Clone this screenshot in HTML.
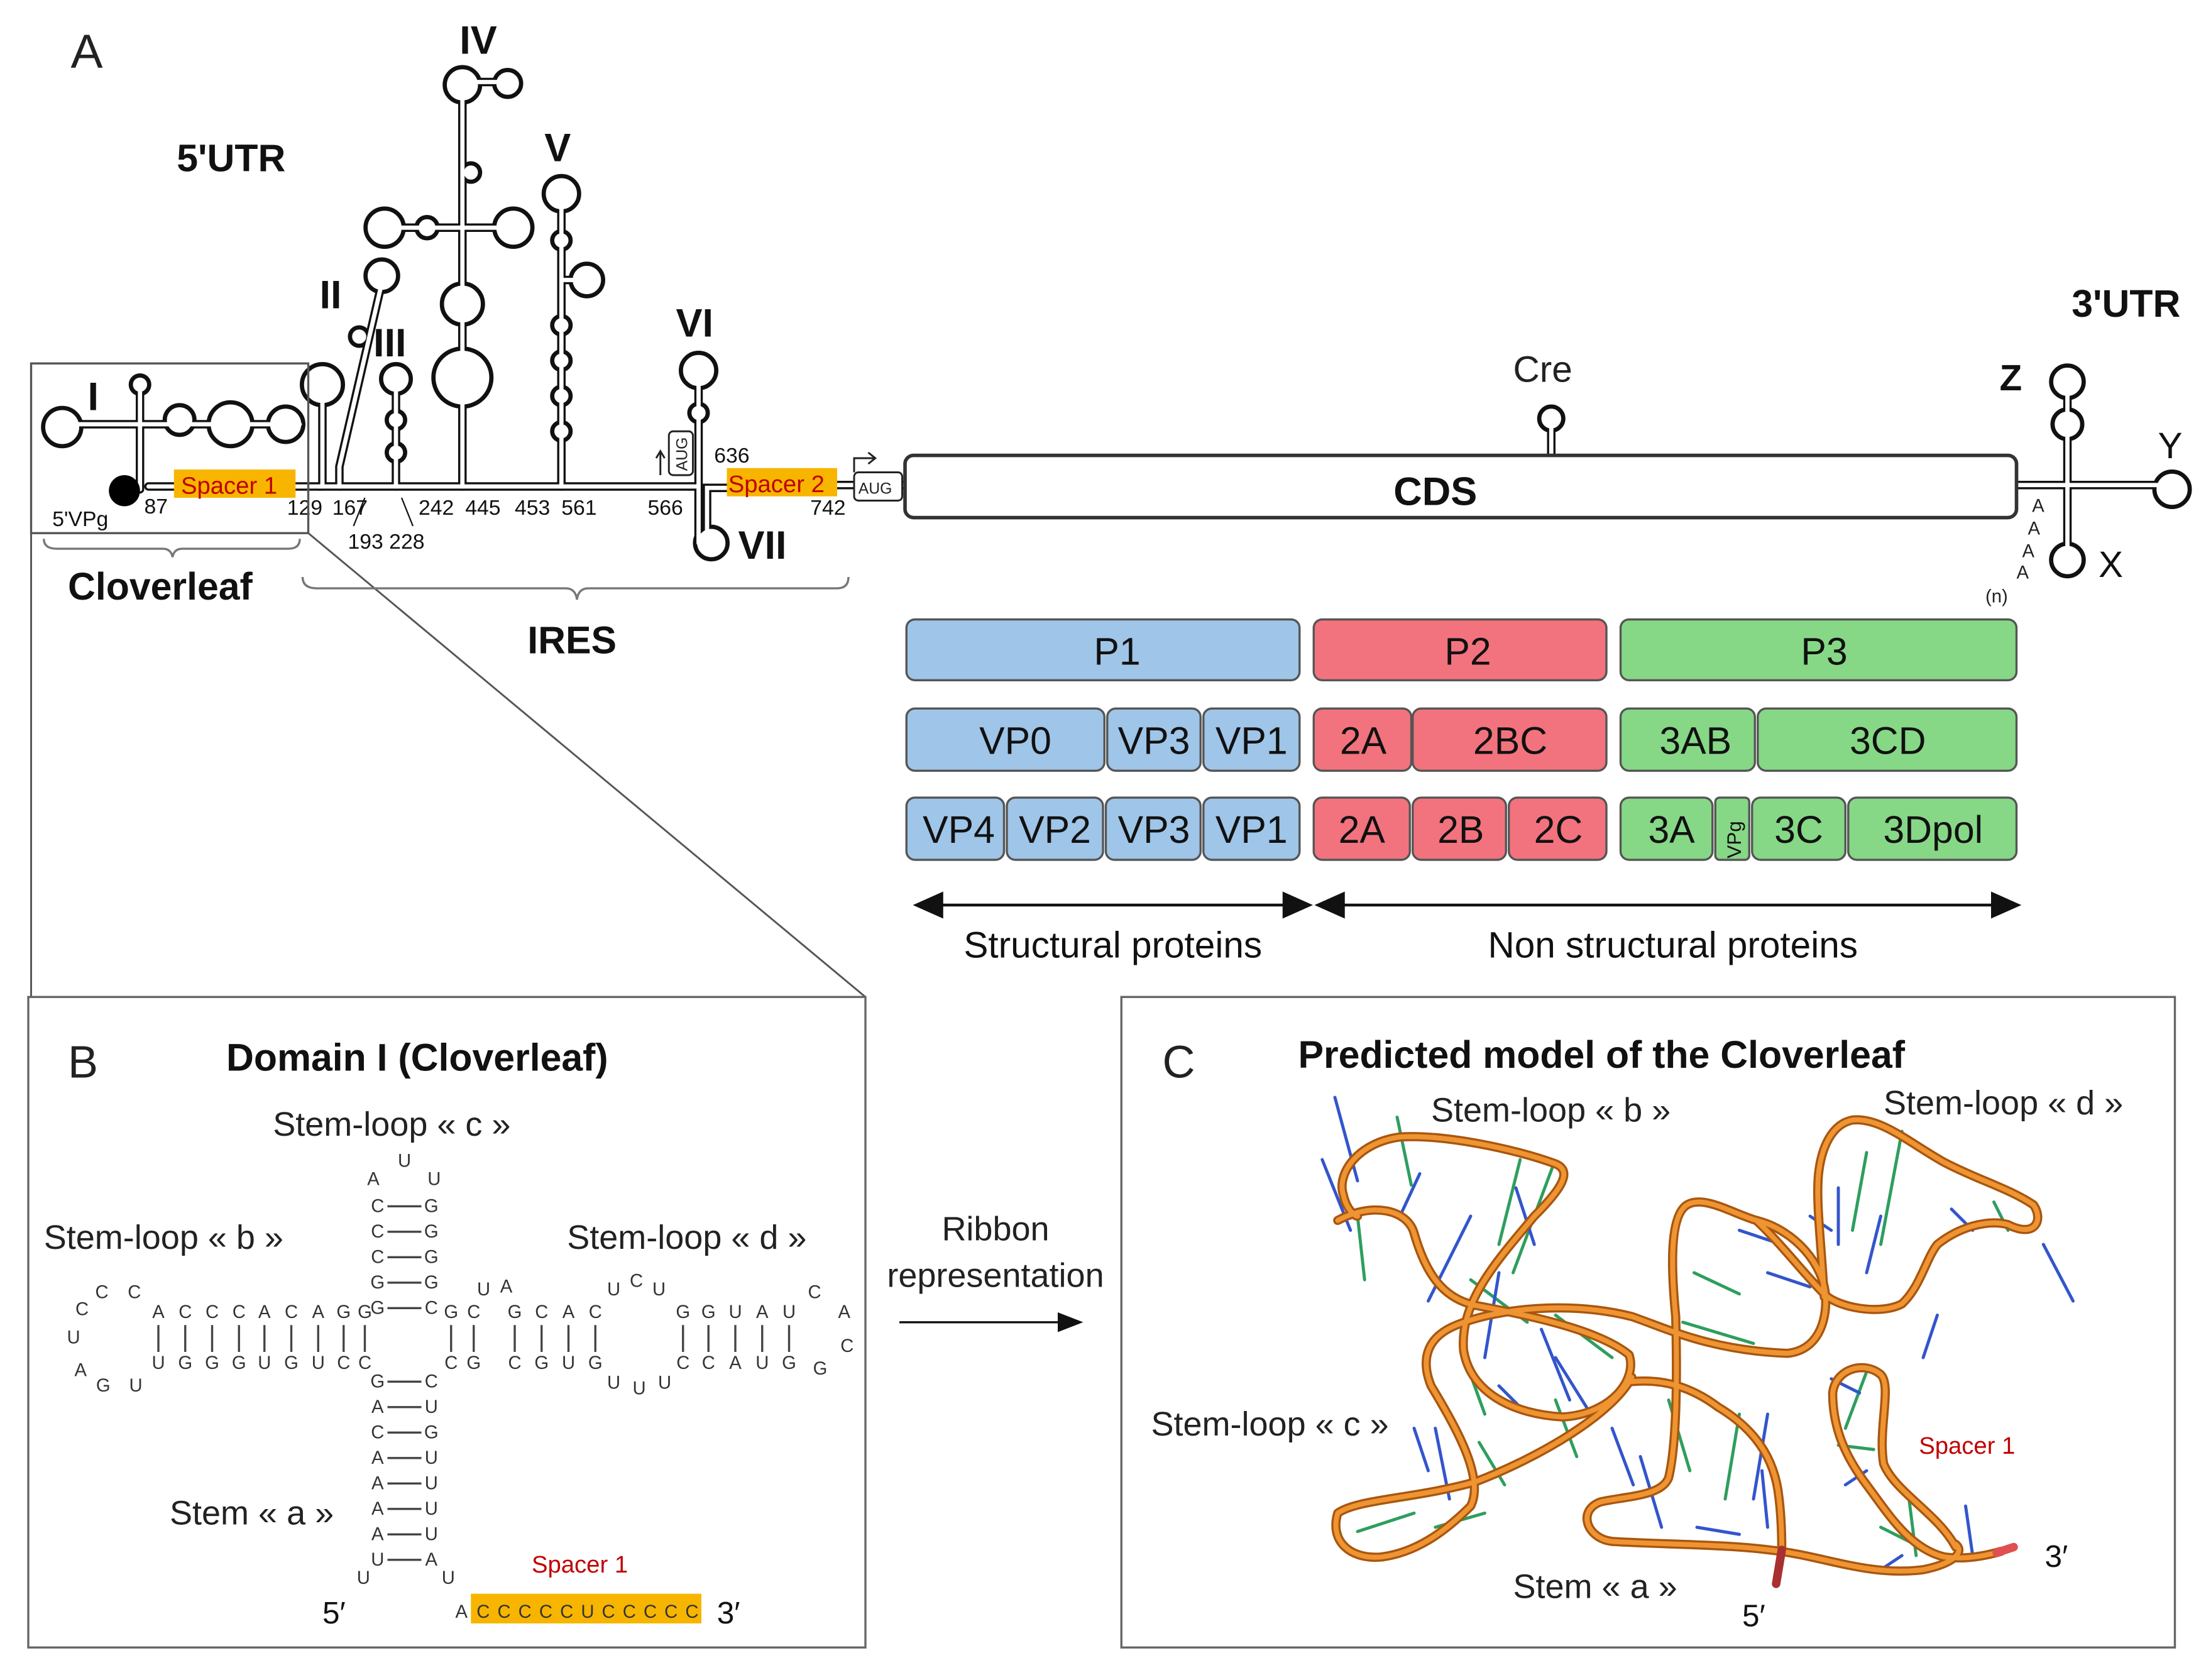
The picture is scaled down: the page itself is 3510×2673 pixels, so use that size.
<!DOCTYPE html>
<html><head><meta charset="utf-8"><style>
html,body{margin:0;padding:0;background:#fff}
svg{display:block}
text{font-family:"Liberation Sans",sans-serif}
</style></head><body>
<svg width="3510" height="2673" viewBox="0 0 1560 1188" xmlns="http://www.w3.org/2000/svg">
<rect width="1560" height="1188" fill="#fff"/>
<!-- ===== Panel A ===== -->
<text x="50" y="48" font-size="34" fill="#222">A</text>
<text x="125" y="121" font-size="27" font-weight="bold" fill="#111">5'UTR</text>
<text x="1465" y="224" font-size="27" font-weight="bold" fill="#111">3'UTR</text>

<g stroke="#111" stroke-width="6" fill="#111" stroke-linecap="round">
  <path d="M40 300 H212 M99 272 V300 M99 300 V346 M105 344 H226" fill="none"/>
  <circle cx="44" cy="302" r="12"/><circle cx="127" cy="297" r="9"/><circle cx="163" cy="300" r="14"/><circle cx="202" cy="300" r="11"/>
  <circle cx="99" cy="272" r="5"/>
  <path d="M228 344 V285 M240 344 V330 L270 200" fill="none"/>
  <circle cx="228" cy="272" r="13"/><circle cx="270" cy="195" r="10"/><circle cx="254" cy="238" r="5"/>
  <path d="M226 344 H488" fill="none"/>
  <path d="M280 344 V270" fill="none"/>
  <circle cx="280" cy="268" r="9"/><circle cx="280" cy="297" r="5"/><circle cx="280" cy="320" r="5"/>
  <path d="M327 344 V60 M272 161 H363 M327 58 H359" fill="none"/>
  <circle cx="327" cy="60" r="11"/><circle cx="359" cy="59" r="8"/><circle cx="327" cy="267" r="19"/><circle cx="327" cy="215" r="13"/>
  <circle cx="272" cy="161" r="12"/><circle cx="363" cy="161" r="12"/><circle cx="302" cy="161" r="6"/><circle cx="333" cy="122" r="5"/>
  <path d="M397 344 V138 M397 198 H413" fill="none"/>
  <circle cx="397" cy="137" r="11"/><circle cx="415" cy="198" r="10"/>
  <circle cx="397" cy="170" r="5"/><circle cx="397" cy="230" r="5"/><circle cx="397" cy="255" r="5"/><circle cx="397" cy="280" r="5"/><circle cx="397" cy="305" r="5"/>
  <path d="M488 344 H492 M494 262 V384 M500 384 V345 H514" fill="none"/>
  <circle cx="494" cy="262" r="11"/><circle cx="494" cy="292" r="5"/><circle cx="503" cy="384" r="10"/>
  <path d="M591 343 H640" fill="none"/>
  <path d="M1097 322 V300" fill="none"/><circle cx="1097" cy="296" r="7"/>
  <path d="M1426 343 H1530 M1462 270 V400" fill="none"/>
  <circle cx="1462" cy="270" r="10"/><circle cx="1462" cy="300" r="9"/><circle cx="1536" cy="346" r="11"/><circle cx="1462" cy="396" r="10"/>
</g>
<g stroke="#fff" stroke-width="3" fill="#fff" stroke-linecap="round">
  <path d="M40 300 H212 M99 272 V300 M99 300 V346 M105 344 H226" fill="none"/>
  <circle cx="44" cy="302" r="10.5"/><circle cx="127" cy="297" r="7.5"/><circle cx="163" cy="300" r="12.5"/><circle cx="202" cy="300" r="9.5"/>
  <circle cx="99" cy="272" r="3.5"/>
  <path d="M228 344 V285 M240 344 V330 L270 200" fill="none"/>
  <circle cx="228" cy="272" r="11.5"/><circle cx="270" cy="195" r="8.5"/><circle cx="254" cy="238" r="3.5"/>
  <path d="M226 344 H488" fill="none"/>
  <path d="M280 344 V270" fill="none"/>
  <circle cx="280" cy="268" r="7.5"/><circle cx="280" cy="297" r="3.5"/><circle cx="280" cy="320" r="3.5"/>
  <path d="M327 344 V60 M272 161 H363 M327 58 H359" fill="none"/>
  <circle cx="327" cy="60" r="9.5"/><circle cx="359" cy="59" r="6.5"/><circle cx="327" cy="267" r="17.5"/><circle cx="327" cy="215" r="11.5"/>
  <circle cx="272" cy="161" r="10.5"/><circle cx="363" cy="161" r="10.5"/><circle cx="302" cy="161" r="4.5"/><circle cx="333" cy="122" r="3.5"/>
  <path d="M397 344 V138 M397 198 H413" fill="none"/>
  <circle cx="397" cy="137" r="9.5"/><circle cx="415" cy="198" r="8.5"/>
  <circle cx="397" cy="170" r="3.5"/><circle cx="397" cy="230" r="3.5"/><circle cx="397" cy="255" r="3.5"/><circle cx="397" cy="280" r="3.5"/><circle cx="397" cy="305" r="3.5"/>
  <path d="M488 344 H492 M494 262 V384 M500 384 V345 H514" fill="none"/>
  <circle cx="494" cy="262" r="9.5"/><circle cx="494" cy="292" r="3.5"/><circle cx="503" cy="384" r="8.5"/>
  <path d="M591 343 H640" fill="none"/>
  <path d="M1097 322 V300" fill="none"/><circle cx="1097" cy="296" r="5.5"/>
  <path d="M1426 343 H1530 M1462 270 V400" fill="none"/>
  <circle cx="1462" cy="270" r="8.5"/><circle cx="1462" cy="300" r="7.5"/><circle cx="1536" cy="346" r="9.5"/><circle cx="1462" cy="396" r="8.5"/>
</g>
<circle cx="88" cy="347" r="11" fill="#000"/>
<g font-weight="bold" font-size="28" fill="#111">
<text x="62" y="290">I</text><text x="226" y="218">II</text><text x="264" y="252">III</text>
<text x="325" y="38">IV</text><text x="385" y="114">V</text><text x="478" y="238">VI</text><text x="522" y="395">VII</text>
<text x="1414" y="276" font-size="26">Z</text>
</g>
<g font-size="26" fill="#111"><text x="1526" y="324">Y</text><text x="1484" y="408">X</text></g>
<text x="1070" y="270" font-size="26" fill="#222">Cre</text>
<rect x="123" y="332" width="86" height="20" fill="#f7b500"/>
<text x="128" y="349" font-size="17" fill="#c00000">Spacer 1</text>
<rect x="514" y="331" width="78" height="20" fill="#f7b500"/>
<text x="515" y="348" font-size="17" fill="#c00000">Spacer 2</text>
<rect x="473" y="305" width="17" height="31" rx="3" fill="#fff" stroke="#222" stroke-width="1.3"/>
<text x="486" y="333" font-size="11" fill="#222" transform="rotate(-90 486 333)">AUG</text>
<path d="M467 336 V320 M464 324 L467 319 L470 324" stroke="#222" stroke-width="1.3" fill="none"/>
<rect x="604" y="334" width="34" height="20" rx="3" fill="#fff" stroke="#222" stroke-width="1.3"/>
<text x="607" y="349" font-size="11" fill="#222">AUG</text>
<path d="M604 334 V324 H618 M614 320 L619 324 L614 328" stroke="#222" stroke-width="1.3" fill="none"/>
<g font-size="15" fill="#111">
<text x="37" y="372">5'VPg</text><text x="102" y="363">87</text><text x="203" y="364">129</text><text x="235" y="364">167</text>
<text x="246" y="388">193 228</text><text x="296" y="364">242</text><text x="329" y="364">445</text><text x="364" y="364">453</text><text x="397" y="364">561</text>
<text x="458" y="364">566</text><text x="505" y="327">636</text><text x="573" y="364">742</text>
</g>
<path d="M258 352 L250 372 M284 352 L292 372" stroke="#111" stroke-width="1"/>
<rect x="640" y="322" width="786" height="44" rx="6" fill="#fff" stroke="#333" stroke-width="2.5"/>
<text x="1015" y="357" font-size="28" font-weight="bold" text-anchor="middle" fill="#111">CDS</text>
<g font-size="13" fill="#222">
<text x="1437" y="362">A</text><text x="1434" y="378">A</text><text x="1430" y="394">A</text><text x="1426" y="409">A</text><text x="1404" y="426">(n)</text>
</g>
<rect x="22" y="257" width="196" height="120" fill="none" stroke="#555" stroke-width="1.5"/>
<path d="M22 377 V705 M218 377 L612 705" stroke="#555" stroke-width="1.3" fill="none"/>
<path d="M31 381 Q31 388 40 388 H115 Q121 388 122 394 Q123 388 129 388 H204 Q212 388 212 381" stroke="#777" stroke-width="1.5" fill="none"/>
<path d="M214 408 Q214 416 224 416 H400 Q407 416 408 424 Q409 416 416 416 H592 Q600 416 600 408" stroke="#777" stroke-width="1.5" fill="none"/>
<text x="48" y="424" font-size="27" font-weight="bold" fill="#111">Cloverleaf</text>
<text x="373" y="462" font-size="27" font-weight="bold" fill="#111">IRES</text>

<g stroke="#555" stroke-width="1.5">
<rect x="641" y="438" width="278" height="43" rx="6" fill="#9fc5e8"/>
<rect x="929" y="438" width="207" height="43" rx="6" fill="#f2737d"/>
<rect x="1146" y="438" width="280" height="43" rx="6" fill="#86d886"/>
<rect x="641" y="501" width="140" height="44" rx="6" fill="#9fc5e8"/>
<rect x="783" y="501" width="66" height="44" rx="6" fill="#9fc5e8"/>
<rect x="851" y="501" width="68" height="44" rx="6" fill="#9fc5e8"/>
<rect x="929" y="501" width="69" height="44" rx="6" fill="#f2737d"/>
<rect x="999" y="501" width="137" height="44" rx="6" fill="#f2737d"/>
<rect x="1146" y="501" width="95" height="44" rx="6" fill="#86d886"/>
<rect x="1243" y="501" width="183" height="44" rx="6" fill="#86d886"/>
<rect x="641" y="564" width="69" height="44" rx="6" fill="#9fc5e8"/>
<rect x="712" y="564" width="68" height="44" rx="6" fill="#9fc5e8"/>
<rect x="782" y="564" width="67" height="44" rx="6" fill="#9fc5e8"/>
<rect x="851" y="564" width="68" height="44" rx="6" fill="#9fc5e8"/>
<rect x="929" y="564" width="68" height="44" rx="6" fill="#f2737d"/>
<rect x="999" y="564" width="66" height="44" rx="6" fill="#f2737d"/>
<rect x="1067" y="564" width="69" height="44" rx="6" fill="#f2737d"/>
<rect x="1146" y="564" width="65" height="44" rx="6" fill="#86d886"/>
<rect x="1213" y="564" width="24" height="44" rx="3" fill="#86d886"/>
<rect x="1239" y="564" width="66" height="44" rx="6" fill="#86d886"/>
<rect x="1307" y="564" width="119" height="44" rx="6" fill="#86d886"/>
</g>
<g font-size="27" text-anchor="middle" fill="#111">
<text x="790" y="470">P1</text><text x="1038" y="470">P2</text><text x="1290" y="470">P3</text>
<text x="718" y="533">VP0</text><text x="816" y="533">VP3</text><text x="885" y="533">VP1</text>
<text x="964" y="533">2A</text><text x="1068" y="533">2BC</text><text x="1199" y="533">3AB</text><text x="1335" y="533">3CD</text>
<text x="678" y="596">VP4</text><text x="746" y="596">VP2</text><text x="816" y="596">VP3</text><text x="885" y="596">VP1</text>
<text x="963" y="596">2A</text><text x="1033" y="596">2B</text><text x="1102" y="596">2C</text>
<text x="1182" y="596">3A</text><text x="1272" y="596">3C</text><text x="1367" y="596">3Dpol</text>
</g>
<text x="1231" y="607" font-size="14" fill="#111" transform="rotate(-90 1231 607)">VPg</text>
<g stroke="#111" stroke-width="2" fill="#111">
<path d="M660 640 H914" fill="none"/><path d="M648 640 L666 632 L666 648Z"/><path d="M926 640 L908 632 L908 648Z"/>
<path d="M944 640 H1414" fill="none"/><path d="M932 640 L950 632 L950 648Z"/><path d="M1427 640 L1409 632 L1409 648Z"/>
</g>
<text x="787" y="677" font-size="26" text-anchor="middle" fill="#111">Structural proteins</text>
<text x="1183" y="677" font-size="26" text-anchor="middle" fill="#111">Non structural proteins</text>

<!-- ===== Panel B ===== -->
<rect x="20" y="705" width="592" height="460" fill="none" stroke="#666" stroke-width="1.5"/>
<text x="48" y="762" font-size="32" fill="#222">B</text>
<text x="160" y="757" font-size="27" font-weight="bold" fill="#111">Domain I (Cloverleaf)</text>
<g font-size="24" fill="#222">
<text x="193" y="803">Stem-loop « c »</text>
<text x="31" y="883">Stem-loop « b »</text>
<text x="401" y="883">Stem-loop « d »</text>
<text x="120" y="1078">Stem « a »</text>
</g>
<g font-family="'DejaVu Sans',sans-serif" font-size="13" fill="#333" text-anchor="middle">
<text x="264" y="838">A</text><text x="286" y="825">U</text><text x="307" y="838">U</text>
<text x="267" y="857">C</text><text x="305" y="857">G</text>
<text x="267" y="875">C</text><text x="305" y="875">G</text>
<text x="267" y="893">C</text><text x="305" y="893">G</text>
<text x="267" y="911">G</text><text x="305" y="911">G</text>
<text x="267" y="929">G</text><text x="305" y="929">C</text>
<text x="58" y="930">C</text><text x="72" y="918">C</text><text x="95" y="918">C</text>
<text x="52" y="950">U</text><text x="57" y="973">A</text><text x="73" y="984">G</text><text x="96" y="984">U</text>
<text x="112" y="932">A</text><text x="131" y="932">C</text><text x="150" y="932">C</text><text x="169" y="932">C</text><text x="187" y="932">A</text><text x="206" y="932">C</text><text x="225" y="932">A</text><text x="243" y="932">G</text><text x="258" y="932">G</text>
<text x="112" y="968">U</text><text x="131" y="968">G</text><text x="150" y="968">G</text><text x="169" y="968">G</text><text x="187" y="968">U</text><text x="206" y="968">G</text><text x="225" y="968">U</text><text x="243" y="968">C</text><text x="258" y="968">C</text>
<text x="319" y="932">G</text><text x="335" y="932">C</text><text x="342" y="916">U</text><text x="358" y="914">A</text>
<text x="319" y="968">C</text><text x="335" y="968">G</text>
<text x="364" y="932">G</text><text x="383" y="932">C</text><text x="402" y="932">A</text><text x="421" y="932">C</text>
<text x="364" y="968">C</text><text x="383" y="968">G</text><text x="402" y="968">U</text><text x="421" y="968">G</text>
<text x="434" y="916">U</text><text x="450" y="910">C</text><text x="466" y="916">U</text>
<text x="434" y="982">U</text><text x="452" y="986">U</text><text x="470" y="982">U</text>
<text x="483" y="932">G</text><text x="501" y="932">G</text><text x="520" y="932">U</text><text x="539" y="932">A</text><text x="558" y="932">U</text>
<text x="483" y="968">C</text><text x="501" y="968">C</text><text x="520" y="968">A</text><text x="539" y="968">U</text><text x="558" y="968">G</text>
<text x="576" y="918">C</text><text x="597" y="932">A</text><text x="599" y="956">C</text><text x="580" y="972">G</text>
<text x="267" y="981">G</text><text x="305" y="981">C</text>
<text x="267" y="999">A</text><text x="305" y="999">U</text>
<text x="267" y="1017">C</text><text x="305" y="1017">G</text>
<text x="267" y="1035">A</text><text x="305" y="1035">U</text>
<text x="267" y="1053">A</text><text x="305" y="1053">U</text>
<text x="267" y="1071">A</text><text x="305" y="1071">U</text>
<text x="267" y="1089">A</text><text x="305" y="1089">U</text>
<text x="267" y="1107">U</text><text x="305" y="1107">A</text>
<text x="257" y="1120">U</text><text x="317" y="1120">U</text>
</g>
<g stroke="#444" stroke-width="1.5">
<path d="M274 853 H298 M274 871 H298 M274 889 H298 M274 907 H298 M274 925 H298"/>
<path d="M274 977 H298 M274 995 H298 M274 1013 H298 M274 1031 H298 M274 1049 H298 M274 1067 H298 M274 1085 H298 M274 1103 H298"/>
<path d="M112 937 V956 M131 937 V956 M150 937 V956 M169 937 V956 M187 937 V956 M206 937 V956 M225 937 V956 M243 937 V956 M258 937 V956"/>
<path d="M319 937 V956 M335 937 V956 M364 937 V956 M383 937 V956 M402 937 V956 M421 937 V956"/>
<path d="M483 937 V956 M501 937 V956 M520 937 V956 M539 937 V956 M558 937 V956"/>
</g>
<text x="376" y="1112" font-size="17" fill="#c00000">Spacer 1</text>
<rect x="333" y="1127" width="163" height="21" fill="#f7b500"/>
<text x="322" y="1144" font-family="'DejaVu Sans',sans-serif" font-size="13" fill="#333">A</text>
<text x="337" y="1144" font-family="'DejaVu Sans',sans-serif" font-size="13" fill="#333" textLength="157">CCCCCUCCCCC</text>
<text x="228" y="1148" font-family="'Liberation Serif',serif" font-size="22" fill="#111">5′</text>
<text x="507" y="1148" font-family="'Liberation Serif',serif" font-size="22" fill="#111">3′</text>

<text x="704" y="877" font-size="24" text-anchor="middle" fill="#222">Ribbon</text>
<text x="704" y="910" font-size="24" text-anchor="middle" fill="#222">representation</text>
<path d="M636 935 H752" stroke="#111" stroke-width="1.5"/><path d="M766 935 L748 928 L748 942Z" fill="#111"/>

<!-- ===== Panel C ===== -->
<rect x="793" y="705" width="745" height="460" fill="none" stroke="#666" stroke-width="1.5"/>
<text x="822" y="762" font-size="32" fill="#222">C</text>
<text x="918" y="755" font-size="27" font-weight="bold" fill="#111">Predicted model of the Cloverleaf</text>
<g stroke-width="2.2" stroke-linecap="round">
<g stroke="#2e9e5e">
<path d="M988 790 L998 838 M960 860 L965 905 M1075 820 L1060 880 M1098 825 L1070 900 M1040 905 L1080 935 M1100 930 L1140 960 M1034 956 L1050 1000 M1046 1020 L1064 1050 M1100 990 L1115 1030 M1180 990 L1195 1040 M1230 1000 L1220 1060 M1198 900 L1230 915 M1190 935 L1240 950 M1320 815 L1310 870 M1345 800 L1330 880 M1410 850 L1420 870 M1015 1080 L1050 1070 M960 1083 L1000 1070 M1320 970 L1305 1010 M1300 1022 L1325 1025 M1330 1080 L1350 1090 M1350 1060 L1355 1100"/>
</g>
<g stroke="#3355cc">
<path d="M944 776 L960 835 M935 820 L955 870 M1004 830 L990 860 M1040 860 L1010 920 M1060 900 L1050 960 M1072 840 L1085 880 M1090 940 L1110 990 M1060 980 L1080 1000 M1000 1010 L1010 1040 M1015 1010 L1025 1060 M1100 960 L1125 1000 M1140 1010 L1155 1050 M1160 1030 L1175 1080 M1250 1000 L1240 1060 M1246 1040 L1250 1080 M1230 870 L1260 880 M1250 900 L1280 910 M1280 860 L1295 870 M1300 840 L1300 880 M1330 860 L1320 900 M1380 855 L1395 870 M1445 880 L1466 920 M1370 930 L1360 960 M1295 975 L1315 985 M1305 1050 L1320 1040 M1390 1065 L1395 1100 M1200 1080 L1230 1085 M1330 1110 L1345 1100"/>
</g>
</g>
<g fill="none" stroke-linecap="round" stroke-linejoin="round">
<g stroke="#a8560f" stroke-width="6.5">
<path d="M946 863 C970 850 995 855 1000 872 C1008 900 1020 918 1043 923 C1080 930 1130 940 1152 958 C1158 975 1140 1000 1105 1002 C1070 1000 1040 985 1035 955 C1032 920 1060 890 1085 860 C1105 840 1112 828 1100 823 C1070 812 1020 802 990 804 C960 808 945 830 950 845 C952 855 958 860 960 860"/>
<path d="M1242 863 C1260 880 1275 900 1290 915 C1300 925 1330 930 1345 922 C1358 910 1362 890 1370 880 C1385 868 1405 862 1420 866 C1440 876 1445 862 1438 852 C1420 840 1400 835 1375 822 C1350 808 1330 790 1310 792 C1295 795 1288 812 1286 830 C1284 850 1288 880 1290 917"/>
<path d="M1154 974 C1140 1000 1090 1030 1043 1048 C1000 1060 960 1060 946 1070 C940 1090 955 1103 977 1101 C1000 1098 1020 1085 1040 1065 C1050 1045 1030 1010 1012 980 C1004 960 1010 945 1030 937 C1060 925 1110 920 1154 931 C1180 940 1210 955 1264 957 C1285 955 1292 935 1291 917 C1290 895 1270 870 1242 863 C1225 858 1205 845 1193 852 C1180 860 1182 900 1185 931 C1186 970 1186 1020 1180 1045 C1175 1058 1150 1058 1132 1062 C1115 1068 1122 1088 1140 1090 C1170 1092 1220 1092 1251 1096 C1290 1100 1320 1115 1360 1110 C1380 1106 1390 1098 1383 1092"/>
<path d="M1383 1094 C1370 1070 1340 1055 1332 1035 C1328 1010 1338 980 1330 972 C1318 962 1298 968 1296 985 C1296 1010 1305 1030 1320 1050 C1335 1070 1350 1095 1375 1101 C1390 1103 1405 1100 1415 1097"/>
<path d="M1154 977 C1175 975 1195 980 1215 995 C1240 1010 1255 1030 1258 1059 C1260 1075 1260 1090 1260 1096"/>
</g>
<g stroke="#ef9432" stroke-width="3.5">
<path d="M946 863 C970 850 995 855 1000 872 C1008 900 1020 918 1043 923 C1080 930 1130 940 1152 958 C1158 975 1140 1000 1105 1002 C1070 1000 1040 985 1035 955 C1032 920 1060 890 1085 860 C1105 840 1112 828 1100 823 C1070 812 1020 802 990 804 C960 808 945 830 950 845 C952 855 958 860 960 860"/>
<path d="M1242 863 C1260 880 1275 900 1290 915 C1300 925 1330 930 1345 922 C1358 910 1362 890 1370 880 C1385 868 1405 862 1420 866 C1440 876 1445 862 1438 852 C1420 840 1400 835 1375 822 C1350 808 1330 790 1310 792 C1295 795 1288 812 1286 830 C1284 850 1288 880 1290 917"/>
<path d="M1154 974 C1140 1000 1090 1030 1043 1048 C1000 1060 960 1060 946 1070 C940 1090 955 1103 977 1101 C1000 1098 1020 1085 1040 1065 C1050 1045 1030 1010 1012 980 C1004 960 1010 945 1030 937 C1060 925 1110 920 1154 931 C1180 940 1210 955 1264 957 C1285 955 1292 935 1291 917 C1290 895 1270 870 1242 863 C1225 858 1205 845 1193 852 C1180 860 1182 900 1185 931 C1186 970 1186 1020 1180 1045 C1175 1058 1150 1058 1132 1062 C1115 1068 1122 1088 1140 1090 C1170 1092 1220 1092 1251 1096 C1290 1100 1320 1115 1360 1110 C1380 1106 1390 1098 1383 1092"/>
<path d="M1383 1094 C1370 1070 1340 1055 1332 1035 C1328 1010 1338 980 1330 972 C1318 962 1298 968 1296 985 C1296 1010 1305 1030 1320 1050 C1335 1070 1350 1095 1375 1101 C1390 1103 1405 1100 1415 1097"/>
<path d="M1154 977 C1175 975 1195 980 1215 995 C1240 1010 1255 1030 1258 1059 C1260 1075 1260 1090 1260 1096"/>
</g>
</g>
<path d="M1260 1096 L1256 1120" stroke="#a83030" stroke-width="6" stroke-linecap="round"/>
<path d="M1412 1098 L1424 1094" stroke="#e05050" stroke-width="6" stroke-linecap="round"/>
<g font-size="24" fill="#222">
<text x="1012" y="793">Stem-loop « b »</text>
<text x="1332" y="788">Stem-loop « d »</text>
<text x="814" y="1015">Stem-loop « c »</text>
<text x="1070" y="1130">Stem « a »</text>
</g>
<text x="1357" y="1028" font-size="17" fill="#c00000">Spacer 1</text>
<text x="1232" y="1150" font-family="'Liberation Serif',serif" font-size="22" fill="#111">5′</text>
<text x="1446" y="1108" font-family="'Liberation Serif',serif" font-size="22" fill="#111">3′</text>
</svg>
</body></html>
